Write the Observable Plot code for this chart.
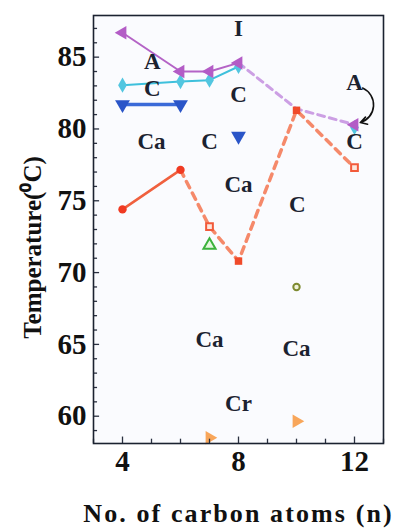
<!DOCTYPE html>
<html><head><meta charset="utf-8">
<script src="https://cdn.jsdelivr.net/npm/d3@7"></script>
<script src="https://cdn.jsdelivr.net/npm/@observablehq/plot@0.6"></script>
<style>
body{margin:0;background:#fff;}
#chart svg{background:#fff;}
</style></head><body><div id="chart"></div>
<script>
// x: number of carbon atoms (n), y: temperature (°C)
const nTicks = [4, 8, 12];
const tempTicks = [60, 65, 70, 75, 80, 85];
const nMinor = [3, 5, 6, 7, 9, 10, 11, 13];
const tempMinor = [59, 61, 62, 63, 64, 66, 67, 68, 69, 71, 72, 73, 74, 76, 77, 78, 79, 81, 82, 83, 84, 86, 87];

const purpleN = [4, 6, 7, 8],        purpleT = [86.7, 84.0, 84.0, 84.6];
const purpleDashN = [8, 10, 12],     purpleDashT = [84.6, 81.4, 80.3];
const purpleEndN = [12],             purpleEndT = [80.3];
const cyanN = [4, 6, 7, 8],          cyanT = [83.05, 83.3, 83.4, 84.35];
const cyanEndN = [12],               cyanEndT = [80.1];
const blueN = [4, 6],                blueT = [81.7, 81.7];
const blueExtraN = [8],              blueExtraT = [79.5];
const redN = [4, 6],                 redT = [74.4, 77.15];
const orangeDashN = [6, 7, 8, 10, 12], orangeDashT = [77.15, 73.2, 70.8, 81.3, 77.3];
const squareOpenN = [7, 12],         squareOpenT = [73.2, 77.3];
const squareFillN = [8, 10],         squareFillT = [70.8, 81.3];
const greenN = [7],                  greenT = [71.9];
const oliveN = [10],                 oliveT = [69.0];
const crN = [7, 10],                 crT = [58.5, 59.65];

const phaseLabels = ["I", "A", "C", "Ca", "C", "C", "Ca", "C", "A", "C", "Ca", "Ca", "Cr"];
const labelN = [8, 5.03, 5.03, 5, 7, 8, 8, 10.03, 12, 12, 7, 10, 8];
const labelT = [87.0, 84.7, 82.8, 79.1, 79.1, 82.4, 76.1, 74.7, 83.2, 79.1, 65.3, 64.7, 60.9];

const arrowFrom = [12.28, 82.85], arrowTo = [12.2, 80.45];

const xLabel = "No. of carbon atoms (n)";
const yLabel = "Temperature(⁰C)";

const pts = (xs, ys) => xs.map((x, i) => ({x, y: ys[i]}));
const serif = "'Liberation Serif', 'Times New Roman', serif";

const chart = Plot.plot({
  width: 394, height: 528,
  marginLeft: 93, marginRight: 11, marginTop: 15, marginBottom: 85,
  style: {fontFamily: serif, background: "#fff"},
  x: {domain: [3, 13], ticks: nTicks},
  y: {domain: [58.1, 87.9], ticks: tempTicks},
  marks: [
    Plot.frame({fill: "#fafbfe", stroke: "none"}),
    // lines
    Plot.line(pts(orangeDashN, orangeDashT), {x: "x", y: "y", stroke: "#f5896a", strokeWidth: 3.5, strokeDasharray: "7,6"}),
    Plot.line(pts(purpleDashN, purpleDashT), {x: "x", y: "y", stroke: "#cc9fe4", strokeWidth: 3, strokeDasharray: "7,5"}),
    Plot.line(pts(redN, redT), {x: "x", y: "y", stroke: "#f0603e", strokeWidth: 2.5}),
    Plot.line(pts(blueN, blueT), {x: "x", y: "y", stroke: "#3a6ad8", strokeWidth: 3.5}),
    Plot.line(pts(cyanN, cyanT), {x: "x", y: "y", stroke: "#3ec0dc", strokeWidth: 2}),
    Plot.line(pts(purpleN, purpleT), {x: "x", y: "y", stroke: "#b463c6", strokeWidth: 2}),
    // markers
    Plot.dot(pts(redN, redT), {x: "x", y: "y", symbol: "circle", r: 4.2, fill: "#f03a22"}),
    Plot.dot(pts(squareFillN, squareFillT), {x: "x", y: "y", symbol: "square", r: 4.2, fill: "#f04a2a"}),
    Plot.dot(pts(squareOpenN, squareOpenT), {x: "x", y: "y", symbol: "square", r: 3.8, fill: "#fde6dc", stroke: "#f25a3a", strokeWidth: 2}),
    Plot.dot(pts(greenN, greenT), {x: "x", y: "y", symbol: "triangle", r: 4.5, fill: "#e6f7e0", stroke: "#3cb23c", strokeWidth: 2}),
    Plot.dot(pts(oliveN, oliveT), {x: "x", y: "y", symbol: "circle", r: 3.2, fill: "#f0f2d8", stroke: "#7d8a30", strokeWidth: 2}),
    Plot.dot(pts(crN, crT), {x: "x", y: "y", symbol: "triangle", rotate: 90, r: 5, fill: "#f8a65a"}),
    Plot.dot(pts(blueN, blueT).concat(pts(blueExtraN, blueExtraT)), {x: "x", y: "y", symbol: "triangle", rotate: 180, r: 5.5, fill: "#2a55c8"}),
    Plot.dot(pts(cyanN, cyanT).concat(pts(cyanEndN, cyanEndT)), {x: "x", y: "y", symbol: "diamond", r: 4.6, fill: "#52c6e0"}),
    Plot.dot(pts(purpleN, purpleT).concat(pts(purpleEndN, purpleEndT)), {x: "x", y: "y", symbol: "triangle", rotate: -90, r: 5, fill: "#b35cc6"}),
    // phase labels
    Plot.text(pts(labelN, labelT).map((d, i) => ({...d, t: phaseLabels[i]})), {x: "x", y: "y", text: "t", fontSize: 23, fontWeight: "bold", fill: "#1b2230", fontFamily: serif}),
    Plot.arrow([{x1: arrowFrom[0], y1: arrowFrom[1], x2: arrowTo[0], y2: arrowTo[1]}], {x1: "x1", y1: "y1", x2: "x2", y2: "y2", bend: 70, stroke: "#111", strokeWidth: 1.6, headLength: 7}),
    // inward ticks
    Plot.ruleY(tempTicks, {y: d => d, x1: 3, x2: 3.21, stroke: "#2a3040", strokeWidth: 1.3}),
    Plot.ruleY(tempMinor, {y: d => d, x1: 3, x2: 3.14, stroke: "#2a3040", strokeWidth: 1.3}),
    Plot.ruleX(nTicks, {x: d => d, y1: 58.1, y2: 58.55, stroke: "#2a3040", strokeWidth: 1.3}),
    Plot.ruleX(nMinor, {x: d => d, y1: 58.1, y2: 58.4, stroke: "#2a3040", strokeWidth: 1.3}),
    Plot.frame({stroke: "#1b2230", strokeWidth: 1.6}),
    // axes labels
    Plot.axisY({ticks: tempTicks, tickSize: 0, tickPadding: 7, fontSize: 29, fontWeight: "bold", fill: "#111", label: null, fontFamily: serif}),
    Plot.axisX({ticks: nTicks, tickSize: 0, tickPadding: 7, fontSize: 29, fontWeight: "bold", fill: "#111", label: null, fontFamily: serif}),
    Plot.text([xLabel], {frameAnchor: "bottom", dy: 78, fontSize: 26, fontWeight: "bold", fill: "#111", fontFamily: serif}),
    Plot.text([yLabel], {frameAnchor: "left", textAnchor: "middle", rotate: -90, dx: -61, dy: 18, fontSize: 25, fontWeight: "bold", fill: "#111", fontFamily: serif})
  ]
});
d3.select(chart).selectAll("text")
  .filter(function() { return this.textContent === xLabel; })
  .style("letter-spacing", "2.1px");
document.getElementById("chart").appendChild(chart);
</script></body></html>
